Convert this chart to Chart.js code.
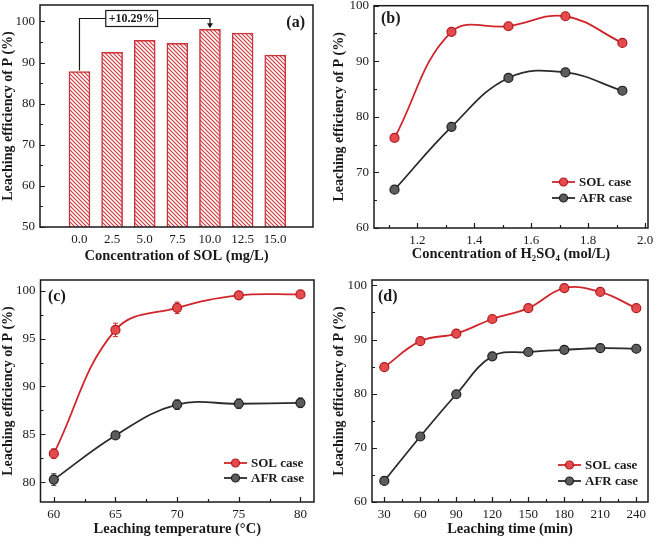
<!DOCTYPE html>
<html>
<head>
<meta charset="utf-8">
<script src="https://cdn.jsdelivr.net/npm/chart.js@4"></script>
<style>
  html, body { margin: 0; padding: 0; background: #fff; }
  #wrap { position: relative; width: 656px; height: 539px; }
  canvas { position: absolute; }
</style>
</head>
<body>
<div id="wrap">
  <canvas id="chartA" width="328" height="268" style="left:0;top:0"></canvas>
  <canvas id="chartB" width="328" height="268" style="left:328px;top:0"></canvas>
  <canvas id="chartC" width="328" height="271" style="left:0;top:268px"></canvas>
  <canvas id="chartD" width="328" height="271" style="left:328px;top:268px"></canvas>
</div>
<script>
// (a) SOL dosage
const solDose = [0, 2.5, 5, 7.5, 10, 12.5, 15];
const solDoseEff = [87.8, 92.5, 95.4, 94.7, 98.1, 97.2, 91.8];
const solDoseTicks = [0, 2.5, 5, 7.5, 10, 12.5, 15];
const effTicksA = [50, 60, 70, 80, 90, 100];

// (b) H2SO4 concentration
const acidConc = [1.12, 1.32, 1.52, 1.72, 1.92];
const acidSol = [76.2, 95.3, 96.3, 98.1, 93.3];
const acidAfr = [66.9, 78.2, 87.0, 88.0, 84.7];
const acidTicks = [1.2, 1.4, 1.6, 1.8, 2.0];
const effTicksB = [60, 70, 80, 90, 100];

// (c) temperature
const temps = [60, 65, 70, 75, 80];
const tempSol = [83.0, 95.9, 98.2, 99.5, 99.6];
const tempSolErr = [0.5, 0.7, 0.6, 0.3, 0.2];
const tempAfr = [80.3, 84.9, 88.1, 88.2, 88.3];
const tempAfrErr = [0.6, 0.2, 0.5, 0.5, 0.5];
const tempTicks = [60, 65, 70, 75, 80];
const effTicksC = [80, 85, 90, 95, 100];

// (d) time
const times = [30, 60, 90, 120, 150, 180, 210, 240];
const timeSol = [84.9, 89.7, 91.1, 93.8, 95.8, 99.5, 98.8, 95.8];
const timeAfr = [63.9, 72.1, 79.9, 86.9, 87.7, 88.1, 88.4, 88.3];
const timeTicks = [30, 60, 90, 120, 150, 180, 210, 240];
const effTicksD = [60, 70, 80, 90, 100];

const RED = "#d0262b", RED_FILL = "#e54a4c", RED_EDGE = "#b01a1e";
const BLK = "#2b2b2b", BLK_FILL = "#5c5c5c", BLK_EDGE = "#1e1e1e";
const SERIF = "'Liberation Serif', 'Times New Roman', serif";
const INK = "#1a1a1a";

function pts(xs, ys) {
  return xs.map((x, i) => ({ x: x, y: ys[i] }));
}

function hatch() {
  const c = document.createElement("canvas");
  c.width = 4; c.height = 4;
  const g = c.getContext("2d");
  g.fillStyle = "#fff";
  g.fillRect(0, 0, 4, 4);
  g.strokeStyle = "#cf3a3f";
  g.lineWidth = 1.2;
  g.beginPath();
  g.moveTo(0, 0); g.lineTo(4, 4);
  g.moveTo(-1, 3); g.lineTo(1, 5);
  g.moveTo(3, -1); g.lineTo(5, 1);
  g.stroke();
  return g.createPattern(c, "repeat");
}

// plot-area geometry is given per panel: y axis width, x axis height, top/right padding
function scales(p) {
  return {
    x: {
      type: "linear", min: p.xMin, max: p.xMax,
      afterBuildTicks: s => { s.ticks = p.xTicks.map(v => ({ value: v })); },
      afterFit: s => { s.height = p.xH; s.paddingLeft = 0; s.paddingRight = 0; },
      grid: { display: false, drawTicks: false },
      border: { display: false },
      ticks: {
        autoSkip: false, maxRotation: 0, padding: 5, color: INK,
        font: { family: SERIF, size: 13 },
        callback: p.xFmt || (v => v)
      },
      title: {
        display: true, text: p.xTitle, color: INK,
        font: { family: SERIF, size: 14.5, weight: "bold" },
        padding: { top: 0, bottom: p.xTitlePad }
      }
    },
    y: {
      type: "linear", min: p.yMin, max: p.yMax,
      afterBuildTicks: s => { s.ticks = p.yTicks.map(v => ({ value: v })); },
      afterFit: s => { s.width = p.yW; s.paddingTop = 0; s.paddingBottom = 0; },
      grid: { display: false, drawTicks: false },
      border: { display: false },
      ticks: { padding: 5, color: INK, font: { family: SERIF, size: 13 } },
      title: {
        display: true, text: "Leaching efficiency of P (%)", color: INK,
        font: { family: SERIF, size: 14, weight: "bold" },
        padding: { top: p.yTitlePad, bottom: 0 }
      }
    }
  };
}

const decor = {
  id: "decor",
  beforeDatasetsDraw(chart) {
    const { ctx, scales: { x, y } } = chart;
    chart.data.datasets.forEach(ds => {
      if (!ds.err) return;
      ctx.save();
      ctx.strokeStyle = ds.borderColor;
      ctx.lineWidth = 1;
      ds.data.forEach((d, i) => {
        const px = x.getPixelForValue(d.x);
        const lo = y.getPixelForValue(d.y - ds.err[i]);
        const hi = y.getPixelForValue(d.y + ds.err[i]);
        ctx.beginPath();
        ctx.moveTo(px, lo); ctx.lineTo(px, hi);
        ctx.moveTo(px - 2.5, lo); ctx.lineTo(px + 2.5, lo);
        ctx.moveTo(px - 2.5, hi); ctx.lineTo(px + 2.5, hi);
        ctx.stroke();
      });
      ctx.restore();
    });
  },
  afterDatasetsDraw(chart, args, o) {
    const { ctx, chartArea: a, scales: { x, y } } = chart;
    ctx.save();
    ctx.strokeStyle = INK;

    // inward ticks
    ctx.lineWidth = 1.2;
    ctx.beginPath();
    const yt = y.ticks.map(t => t.value);
    yt.forEach((v, i) => {
      const py = Math.round(y.getPixelForValue(v)) + 0.5;
      ctx.moveTo(a.left, py); ctx.lineTo(a.left + 5, py);
      const next = i < yt.length - 1 ? yt[i + 1] : v + (v - yt[i - 1]);
      const mv = (v + next) / 2;
      if (mv < y.max) {
        const my = Math.round(y.getPixelForValue(mv)) + 0.5;
        ctx.moveTo(a.left, my); ctx.lineTo(a.left + 3, my);
      }
    });
    if (o.xTicks) {
      const xt = x.ticks.map(t => t.value);
      xt.forEach((v, i) => {
        const px = Math.round(x.getPixelForValue(v)) + 0.5;
        ctx.moveTo(px, a.bottom); ctx.lineTo(px, a.bottom - 5);
        if (i < xt.length - 1) {
          const mx = Math.round(x.getPixelForValue((v + xt[i + 1]) / 2)) + 0.5;
          ctx.moveTo(mx, a.bottom); ctx.lineTo(mx, a.bottom - 3);
        }
        if (i === 0) {
          const mv = v - (xt[1] - v) / 2;
          if (mv > x.min) {
            const mx = Math.round(x.getPixelForValue(mv)) + 0.5;
            ctx.moveTo(mx, a.bottom); ctx.lineTo(mx, a.bottom - 3);
          }
        }
      });
    }
    ctx.stroke();

    // frame
    ctx.lineWidth = 1.5;
    ctx.strokeRect(a.left, a.top, a.right - a.left, a.bottom - a.top);

    // panel label
    ctx.fillStyle = INK;
    ctx.font = "bold 16px " + SERIF;
    ctx.textBaseline = "middle";
    if (o.label.right) {
      ctx.textAlign = "right";
      ctx.fillText(o.label.text, a.right - o.label.dx, a.top + o.label.dy);
    } else {
      ctx.textAlign = "left";
      ctx.fillText(o.label.text, a.left + o.label.dx, a.top + o.label.dy);
    }

    // legend
    if (o.legend) {
      const L = o.legend;
      chart.data.datasets.forEach((ds, i) => {
        const ly = a.bottom - L.dy + i * L.gap;
        const lx = a.right - L.dx;
        ctx.strokeStyle = ds.borderColor;
        ctx.lineWidth = 1.8;
        ctx.beginPath();
        ctx.moveTo(lx, ly); ctx.lineTo(lx + 23, ly);
        ctx.stroke();
        ctx.beginPath();
        ctx.arc(lx + 11.5, ly, 4, 0, Math.PI * 2);
        ctx.fillStyle = ds.pointBackgroundColor;
        ctx.fill();
        ctx.lineWidth = 1.2;
        ctx.strokeStyle = ds.pointBorderColor;
        ctx.stroke();
        ctx.fillStyle = INK;
        ctx.font = "bold 13px " + SERIF;
        ctx.textAlign = "left";
        ctx.fillText(ds.label, lx + 27, ly + 0.5);
      });
    }

    // bracket annotation for (a)
    if (o.bracket) {
      const B = o.bracket;
      const x0 = x.getPixelForValue(B.from), x1 = x.getPixelForValue(B.to);
      const y0 = y.getPixelForValue(B.fromVal), y1 = y.getPixelForValue(B.toVal);
      const yt2 = Math.round(y.getPixelForValue(B.level)) + 0.5;
      ctx.strokeStyle = INK;
      ctx.lineWidth = 1.2;
      ctx.beginPath();
      ctx.moveTo(x0, y0 - 1); ctx.lineTo(x0, yt2); ctx.lineTo(x1, yt2); ctx.lineTo(x1, y1 - 5);
      ctx.stroke();
      ctx.beginPath();
      ctx.moveTo(x1 - 3, y1 - 6); ctx.lineTo(x1 + 3, y1 - 6); ctx.lineTo(x1, y1 - 1);
      ctx.closePath();
      ctx.fillStyle = INK;
      ctx.fill();
      ctx.font = "bold 12px " + SERIF;
      const tw = ctx.measureText(B.text).width;
      const bx = x.getPixelForValue(B.boxAt);
      ctx.fillStyle = "#fff";
      ctx.fillRect(bx - tw / 2 - 3, yt2 - 8, tw + 6, 16);
      ctx.strokeRect(bx - tw / 2 - 3, yt2 - 8, tw + 6, 16);
      ctx.fillStyle = INK;
      ctx.textAlign = "center";
      ctx.textBaseline = "middle";
      ctx.fillText(B.text, bx, yt2 + 0.5);
    }
    ctx.restore();
  }
};

function lineSet(label, xs, ys, red, err) {
  return {
    label: label,
    data: pts(xs, ys),
    err: err,
    borderColor: red ? RED : BLK,
    borderWidth: 1.8,
    pointBackgroundColor: red ? RED_FILL : BLK_FILL,
    pointBorderColor: red ? RED_EDGE : BLK_EDGE,
    pointBorderWidth: 1.2,
    pointRadius: 4.5,
    tension: 0.4,
    fill: false
  };
}

const common = {
  responsive: false,
  animation: false,
  events: [],
  plugins: { legend: { display: false }, tooltip: { enabled: false } }
};

// (a)
new Chart(document.getElementById("chartA"), {
  type: "bar",
  data: {
    datasets: [{
      data: pts(solDose, solDoseEff),
      backgroundColor: hatch(),
      borderColor: "#c9343a",
      borderWidth: 1.5,
      borderSkipped: false,
      barThickness: 21
    }]
  },
  options: Object.assign({}, common, {
    layout: { padding: { top: 5, right: 15, left: 0, bottom: 0 } },
    scales: scales({
      xMin: -1.53, xMax: 16.4, xTicks: solDoseTicks, xH: 41, xTitlePad: 3,
      xFmt: v => v.toFixed(1), xTitle: "Concentration of SOL (mg/L)",
      yMin: 50, yMax: 104, yTicks: effTicksA, yW: 40, yTitlePad: 0
    }),
    plugins: Object.assign({}, common.plugins, {
      decor: {
        xTicks: false,
        label: { text: "(a)", right: true, dx: 8, dy: 18 },
        bracket: { from: 0, to: 10, fromVal: 87.8, toVal: 98.1, level: 100.8, boxAt: 4.0, text: "+10.29%" }
      }
    })
  }),
  plugins: [decor]
});

// (b)
new Chart(document.getElementById("chartB"), {
  type: "line",
  data: {
    datasets: [
      lineSet("SOL case", acidConc, acidSol, true),
      lineSet("AFR case", acidConc, acidAfr, false)
    ]
  },
  options: Object.assign({}, common, {
    layout: { padding: { top: 5, right: 8, left: 0, bottom: 0 } },
    scales: scales({
      xMin: 1.048, xMax: 2.01, xTicks: acidTicks, xH: 40, xTitlePad: 5,
      xFmt: v => v.toFixed(1), xTitle: "Concentration of H\u2082SO\u2084 (mol/L)",
      yMin: 60, yMax: 100, yTicks: effTicksB, yW: 46, yTitlePad: 3
    }),
    plugins: Object.assign({}, common.plugins, {
      decor: {
        xTicks: true,
        label: { text: "(b)", right: false, dx: 7, dy: 13 },
        legend: { dx: 96, dy: 46, gap: 16 }
      }
    })
  }),
  plugins: [decor]
});

// (c)
new Chart(document.getElementById("chartC"), {
  type: "line",
  data: {
    datasets: [
      lineSet("SOL case", temps, tempSol, true, tempSolErr),
      lineSet("AFR case", temps, tempAfr, false, tempAfrErr)
    ]
  },
  options: Object.assign({}, common, {
    layout: { padding: { top: 12, right: 14, left: 0, bottom: 0 } },
    scales: scales({
      xMin: 58.92, xMax: 81.1, xTicks: tempTicks, xH: 37, xTitlePad: 1,
      xTitle: "Leaching temperature (\u00B0C)",
      yMin: 77.96, yMax: 101.1, yTicks: effTicksC, yW: 40.5, yTitlePad: 0
    }),
    plugins: Object.assign({}, common.plugins, {
      decor: {
        xTicks: true,
        label: { text: "(c)", right: false, dx: 7.5, dy: 17 },
        legend: { dx: 90, dy: 39, gap: 15 }
      }
    })
  }),
  plugins: [decor]
});

// (d)
new Chart(document.getElementById("chartD"), {
  type: "line",
  data: {
    datasets: [
      lineSet("SOL case", times, timeSol, true),
      lineSet("AFR case", times, timeAfr, false)
    ]
  },
  options: Object.assign({}, common, {
    layout: { padding: { top: 12, right: 8, left: 0, bottom: 0 } },
    scales: scales({
      xMin: 19.75, xMax: 249.75, xTicks: timeTicks, xH: 37, xTitlePad: 1,
      xTitle: "Leaching time (min)",
      yMin: 60, yMax: 101, yTicks: effTicksD, yW: 44, yTitlePad: 3
    }),
    plugins: Object.assign({}, common.plugins, {
      decor: {
        xTicks: true,
        label: { text: "(d)", right: false, dx: 6, dy: 17 },
        legend: { dx: 90, dy: 37, gap: 16 }
      }
    })
  }),
  plugins: [decor]
});
</script>
</body>
</html>
